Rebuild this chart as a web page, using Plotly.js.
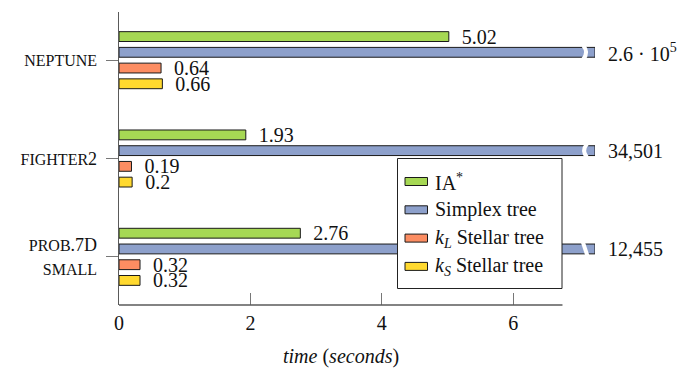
<!DOCTYPE html>
<html>
<head>
<meta charset="utf-8">
<script src="https://cdn.plot.ly/plotly-3.0.1.min.js"></script>
<style>
  html, body { margin: 0; padding: 0; background: #fff; }
  #chart { width: 688px; height: 369px; }
</style>
</head>
<body>
<div id="chart"></div>
<script>
// Datasets (top to bottom) and the run times measured on each, in seconds
const datasets = ['neptune', 'fighter2', 'prob.7D\nsmall'];
const seriesNames = ['IA<sup>*</sup>', 'Simplex tree',
  '<i>k</i><sub><i>L</i></sub> Stellar tree', '<i>k</i><sub><i>S</i></sub> Stellar tree'];
const iaTimes      = [5.02, 1.93, 2.76];
const simplexTimes = [260000, 34501, 12455];
const klTimes      = [0.64, 0.19, 0.32];
const ksTimes      = [0.66, 0.2, 0.32];
const xTickVals    = [0, 2, 4, 6];

const seriesValues = [iaTimes, simplexTimes, klTimes, ksTimes];
const seriesColors = ['#a6d854', '#8da0cb', '#fc8d62', '#ffd92f'];

const SERIF = 'Liberation Serif';
const TEXT_SIZE = 20;
const AXIS_GRAY = '#5a5a5a';
const X_MAX = 7.245;        // right edge of the plotting area
const X_AXIS_END = 6.75;    // where the drawn x axis stops
const BAR_GAP = 0.36, GROUP_GAP = 0.375;

// small caps: lowercase letters become reduced capitals
function smallCaps(s) {
  return s.split('\n').map(line => line.split('').map(ch =>
    (ch >= 'a' && ch <= 'z')
      ? '<span style="font-size:16px">' + ch.toUpperCase() + '</span>'
      : ch).join('')).join('<br>');
}

function fmt(v) {
  if (v >= 1e5) {
    const e = Math.floor(Math.log10(v));
    const m = +(v / Math.pow(10, e)).toFixed(1);
    return m + ' · 10<sup>' + e + '</sup>';
  }
  if (v >= 1000) return v.toLocaleString('en-US');
  return String(v);
}

const yIdx = datasets.map((_, i) => i);

const traces = seriesValues.map((vals, k) => ({
  type: 'bar',
  orientation: 'h',
  name: seriesNames[k],
  y: yIdx,
  x: vals.map(v => Math.min(v, X_MAX)),
  text: vals.map(v => '\u00a0\u00a0' + fmt(v)),
  textposition: 'outside',
  constraintext: 'none',
  cliponaxis: false,
  textfont: { family: SERIF, size: TEXT_SIZE, color: '#111' },
  marker: { color: seriesColors[k], line: { color: '#1a1a1a', width: 1 } },
  hoverinfo: 'skip',
  showlegend: false
}));

// axis-break marks on the bars that run past the plotting area
const slot = (1 - BAR_GAP) / seriesValues.length;
const simplexOffset = (1 - (seriesValues.length - 1) / 2) * slot;
const halfBar = slot * (1 - GROUP_GAP) / 2;
const breakX = X_MAX - 0.15;
const shapes = [];
const breakBends = [0.06, -0.06, 0];
simplexTimes.forEach((v, j) => {
  if (v <= X_MAX) return;
  const yc = j + simplexOffset;
  const y0 = yc - halfBar - 0.02, y1 = yc + halfBar + 0.02;
  const b = breakBends[j];
  let path;
  if (b === 0) {
    path = `M ${breakX - 0.035},${y0} L ${breakX + 0.035},${y1}`;
  } else {
    path = `M ${breakX - b / 2},${y0} Q ${breakX + b},${yc} ${breakX - b / 2},${y1}`;
  }
  shapes.push({ type: 'path', xref: 'x', yref: 'y', path: path,
    line: { color: '#ffffff', width: 4 }, layer: 'above' });
});

// bottom axis line, stopping short of the broken bars
shapes.push({ type: 'line', xref: 'x', yref: 'paper', x0: 0, x1: X_AXIS_END, y0: 0, y1: 0,
  line: { color: AXIS_GRAY, width: 1.3 }, layer: 'above' });

// legend box, drawn in pixel units of the page
const M = { l: 119, r: 93, t: 12, b: 64 };
const W = 688, H = 369;
const px = x => (x - M.l) / (W - M.l - M.r);
const py = y => (H - M.b - y) / (H - M.t - M.b);
const legend = { left: 397.5, top: 158.5, right: 562, bottom: 288.5,
  swatchX: 405, swatchW: 22.5, swatchH: 8, textX: 433, firstY: 181.5, step: 28.3 };
shapes.push({ type: 'rect', xref: 'paper', yref: 'paper',
  x0: px(legend.left), x1: px(legend.right), y0: py(legend.bottom), y1: py(legend.top),
  fillcolor: '#ffffff', line: { color: '#222', width: 1 }, layer: 'above' });
const annotations = [];
seriesNames.forEach((name, k) => {
  const yc = legend.firstY + k * legend.step;
  shapes.push({ type: 'rect', xref: 'paper', yref: 'paper',
    x0: px(legend.swatchX), x1: px(legend.swatchX + legend.swatchW),
    y0: py(yc + legend.swatchH / 2), y1: py(yc - legend.swatchH / 2),
    fillcolor: seriesColors[k], line: { color: '#1a1a1a', width: 1 }, layer: 'above' });
  annotations.push({ xref: 'paper', yref: 'paper', x: px(legend.textX), y: py(yc),
    xanchor: 'left', yanchor: 'middle', text: name, showarrow: false,
    font: { family: SERIF, size: TEXT_SIZE, color: '#111' } });
});

// x axis title, centred under the drawn axis
annotations.push({ xref: 'x', yref: 'paper', x: X_AXIS_END / 2, y: py(356),
  xanchor: 'center', yanchor: 'middle', showarrow: false,
  text: '<i>time</i> (<i>seconds</i>)', font: { family: SERIF, size: TEXT_SIZE, color: '#111' } });

const layout = {
  width: W, height: H,
  margin: M,
  font: { family: SERIF, size: TEXT_SIZE, color: '#111' },
  paper_bgcolor: '#fff', plot_bgcolor: '#fff',
  barmode: 'group', bargap: BAR_GAP, bargroupgap: GROUP_GAP,
  showlegend: false,
  xaxis: {
    range: [0, X_MAX], tickvals: xTickVals, ticktext: xTickVals.map(String),
    ticks: 'inside', ticklen: 12, tickcolor: '#777', tickwidth: 1,
    ticklabelstandoff: 4,
    showline: false, showgrid: false, zeroline: false,
    tickfont: { family: SERIF, size: TEXT_SIZE, color: '#111' }
  },
  yaxis: {
    range: [datasets.length - 0.51, -0.49],
    tickvals: yIdx, ticktext: datasets.map(smallCaps),
    ticks: 'outside', ticklen: 12, tickcolor: '#777', tickwidth: 1,
    ticklabelstandoff: 5,
    showline: true, linecolor: AXIS_GRAY, linewidth: 1.3,
    showgrid: false, zeroline: false,
    tickfont: { family: SERIF, size: 18, color: '#111' }
  },
  shapes: shapes,
  annotations: annotations
};

Plotly.newPlot('chart', traces, layout, { staticPlot: true, displayModeBar: false });
</script>
</body>
</html>
